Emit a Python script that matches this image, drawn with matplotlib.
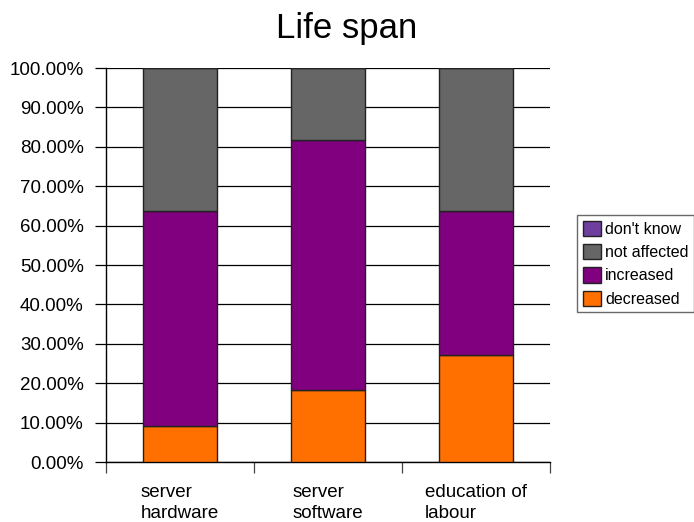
import numpy as np
import matplotlib as mpl
mpl.use('Agg')
import matplotlib.pyplot as plt
from matplotlib.ticker import PercentFormatter

plt.rcParams['font.family'] = ['Liberation Sans', 'DejaVu Sans']

categories = ['server\nhardware', 'server\nsoftware', 'education of\nlabour']
decreased = [9.09, 18.18, 27.27]
increased = [54.55, 63.64, 36.36]
not_affected = [36.36, 18.18, 36.36]
dont_know = [0.0, 0.0, 0.0]

series = [('decreased', decreased, '#ff7000'),
          ('increased', increased, '#800080'),
          ('not affected', not_affected, '#666666'),
          ("don't know", dont_know, '#6f3f9f')]

fig = plt.figure(figsize=(6.94, 5.22), dpi=100)
ax = fig.add_axes([0.1527, 0.1149, 0.7925 - 0.1527, 0.8697 - 0.1149])

x = np.arange(len(categories))
bottom = np.zeros(len(categories))
handles = []
for name, vals, color in series:
    vals = np.array(vals)
    b = ax.bar(x, vals, width=0.5, bottom=bottom, color=color,
               edgecolor='#222222', linewidth=1.0, label=name, zorder=3)
    handles.append(b)
    bottom += vals

# grid lines
ax.set_ylim(0, 100)
ax.set_xlim(-0.5, len(categories) - 0.5)
ax.set_yticks(np.arange(0, 101, 10))
ax.yaxis.set_major_formatter(PercentFormatter(decimals=2))
ax.yaxis.grid(True, color='black', linewidth=0.9, zorder=0)
ax.tick_params(axis='y', length=8, width=0.9, labelsize=13.5, pad=8)

# boundary ticks on x, labels centred under each bar
ax.set_xticks(np.arange(len(categories) + 1) - 0.5)
ax.set_xticklabels([])
ax.set_xticks(x, minor=True)
ax.set_xticklabels(categories, minor=True, fontsize=13.5)
ax.tick_params(axis='x', which='major', length=8, width=0.9, color='#444444')
ax.tick_params(axis='x', which='minor', length=0, pad=16)
for t in ax.get_xticklabels(minor=True):
    t.set_multialignment('left')
    t.set_linespacing(1.3)

for side in ['top', 'right']:
    ax.spines[side].set_visible(False)
ax.spines['left'].set_linewidth(1.0)
ax.spines['bottom'].set_linewidth(1.0)

fig.text(0.5, 0.945, 'Life span', ha='center', va='center', fontsize=25)

leg = fig.legend(handles[::-1], [s[0] for s in series][::-1],
                 loc='upper left', bbox_to_anchor=(0.832, 0.588),
                 fontsize=11.5, frameon=True, fancybox=False,
                 handlelength=1.1, handleheight=1.1, handletextpad=0.3,
                 labelspacing=0.45, borderpad=0.35, borderaxespad=0)
leg.get_frame().set_edgecolor('#444444')
leg.get_frame().set_linewidth(1.0)

fig.savefig('out.png', dpi=100)
plt.close()
